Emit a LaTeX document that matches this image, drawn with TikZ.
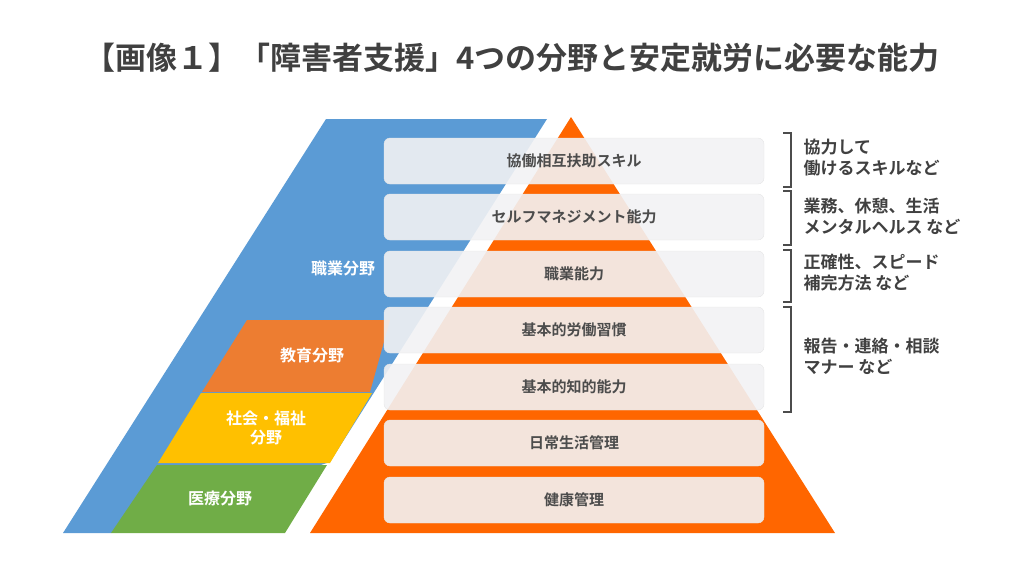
\documentclass[tikz,border=0pt]{standalone}
\usepackage{fontspec}
\setmainfont{Noto Sans CJK JP}[BoldFont={* Bold}]
\begin{document}
\begin{tikzpicture}[x=1pt,y=-1pt,
 card/.style={draw=white!80!gray,fill={rgb,255:red,242;green,242;blue,244},fill opacity=0.9,text opacity=1,rounded corners=6pt,minimum width=380pt,minimum height=46pt,font=\bfseries\fontsize{15}{18}\selectfont,text=black!70},
 lab/.style={font=\bfseries\fontsize{16}{19}\selectfont,text=white,align=center},
 note/.style={font=\bfseries\fontsize{17}{21}\selectfont,text=black!75,align=left,anchor=west},
 br/.style={draw=black!70,line width=1.3pt}]
\useasboundingbox (0,0) rectangle (1024,576);
\node[font=\bfseries\fontsize{31}{36}\selectfont,text=black!75] (title) at (512,58) {【画像１】「障害者支援」4つの分野と安定就労に必要な能力};
\fill[color={rgb,255:red,91;green,155;blue,213}] (63,533)--(326,119)--(547,119)--(330,462)--(111,533)--cycle;
\fill[color={rgb,255:red,237;green,125;blue,49}] (202,392)--(247,320)--(390,320)--(370,392)--cycle;
\fill[color={rgb,255:red,255;green,192;blue,0}] (158,463)--(201,393)--(372,393)--(330,463)--cycle;
\fill[color={rgb,255:red,112;green,173;blue,71}] (111,533)--(157,465)--(327,465)--(285,533)--cycle;
\fill[color={rgb,255:red,255;green,102;blue,0}] (310,533)--(571,117)--(835,533)--cycle;
\node[lab] (f1) at (343,268) {職業分野};
\node[lab] (f2) at (312,355) {教育分野};
\node[lab] (f3) at (266,428) {社会・福祉\\分野};
\node[lab] (f4) at (220,498) {医療分野};
\node[card] (c1) at (574,161) {協働相互扶助スキル};
\node[card] (c2) at (574,217) {セルフマネジメント能力};
\node[card] (c3) at (574,274) {職業能力};
\node[card] (c4) at (574,330) {基本的労働習慣};
\node[card] (c5) at (574,387) {基本的知的能力};
\node[card] (c6) at (574,443) {日常生活管理};
\node[card] (c7) at (574,500) {健康管理};
\foreach \a/\b in {133/187,191/245,250/302,307/412}{
 \draw[br] (783,\a) -- (791,\a) -- (791,\b) -- (783,\b);}
\node[note] (n1) at (800,158) {協力して\\働けるスキルなど};
\node[note] (n2) at (800,216) {業務、休憩、生活\\メンタルヘルス など};
\node[note] (n3) at (800,273) {正確性、スピード\\補完方法 など};
\node[note] (n4) at (800,356) {報告・連絡・相談\\マナー など};
\end{tikzpicture}
\end{document}
